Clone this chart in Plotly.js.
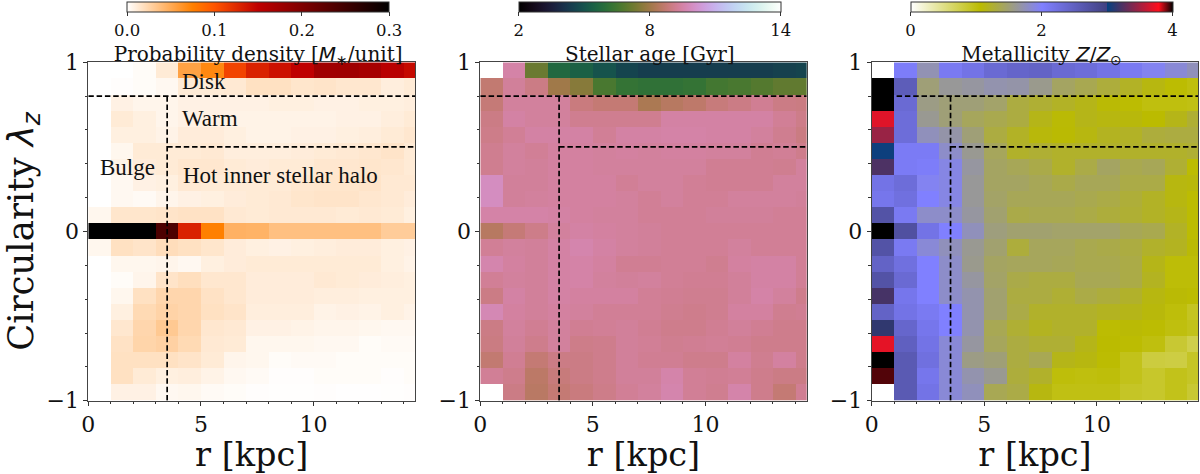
<!DOCTYPE html>
<html><head><meta charset="utf-8">
<script src="https://cdn.plot.ly/plotly-3.0.1.min.js"></script>
<style>html,body{margin:0;padding:0;background:#fff}#c{width:1200px;height:474px}</style>
</head><body><div id="c"></div>
<script>
const radius=[0.5,1.5,2.5,3.5,4.5,5.5,6.5,7.5,8.5,9.5,10.5,11.5,12.5,13.5,14.5];
const circularity=[0.952,0.857,0.762,0.667,0.571,0.476,0.381,0.286,0.190,0.095,0,-0.095,-0.190,-0.286,-0.381,-0.476,-0.571,-0.667,-0.762,-0.857,-0.952];
const density=[
[0,0,.002,.012,.055,.07,.11,.13,.14,.15,.174,.175,.17,.155,.145],
[0,.001,.002,.004,.012,.012,.013,.018,.018,.015,.016,.014,.014,.01,.012],
[0,.008,.006,.006,.008,.008,.008,.008,.009,.009,.008,.008,.009,.009,.01],
[0,.012,.009,.006,.008,.008,.007,.007,.007,.007,.007,.008,.008,.01,.012],
[0,.009,.009,.007,.011,.011,.009,.007,.007,.008,.008,.009,.01,.012,.014],
[0,.005,.012,.012,.012,.013,.01,.01,.01,.011,.012,.013,.014,.016,.012],
[0,.007,.011,.012,.014,.014,.012,.011,.012,.012,.014,.014,.015,.014,.012],
[0,.004,.008,.009,.013,.012,.012,.012,.012,.014,.015,.015,.016,.013,.013],
[0,.004,.003,.006,.008,.009,.011,.012,.013,.015,.016,.016,.014,.013,.011],
[.005,.015,.015,.016,.017,.017,.013,.012,.013,.013,.013,.012,.013,.012,.009],
[.4,.4,.4,.24,.13,.075,.046,.045,.037,.037,.037,.037,.037,.03,.03],
[.005,.018,.016,.02,.018,.015,.011,.009,.008,.009,.01,.011,.011,.009,.008],
[0,.005,.005,.006,.004,.009,.011,.012,.012,.012,.012,.012,.012,.009,.007],
[0,.002,.006,.016,.019,.014,.014,.011,.011,.011,.013,.012,.011,.01,.009],
[0,.005,.018,.024,.024,.017,.014,.011,.011,.011,.01,.01,.009,.009,.009],
[0,.009,.022,.026,.024,.018,.016,.01,.01,.01,.007,.008,.007,.009,.007],
[0,.014,.024,.032,.024,.014,.013,.008,.008,.007,.006,.006,.005,.004,.004],
[0,.017,.025,.027,.022,.013,.012,.005,.005,.005,.004,.004,.002,.003,.003],
[0,.018,.018,.018,.016,.012,.006,.005,.002,.003,.003,.002,.002,.002,.002],
[0,.018,.012,.009,.01,.007,.004,.003,.001,.001,.002,.002,.002,.001,.002],
[0,.008,.008,.004,.005,.003,.002,.001,.0005,.0005,.001,.0003,.0003,.0005,.001]];
const age=[
[null,9.5,7.15,5.7,5.4,5.0,4.6,4.4,4.4,4.4,4.4,4.4,4.4,4.5,4.6],
[8.7,9.3,9.0,8.0,7.6,6.6,6.2,6.1,6.1,6.2,6.5,6.6,6.8,7.0,7.0],
[8.8,9.35,9.35,9.35,8.9,8.75,8.75,8.2,8.45,8.6,8.85,9.0,9.2,9.0,8.95],
[9.0,9.45,9.35,9.35,9.15,9.15,9.15,9.15,9.45,9.45,9.45,9.45,9.45,9.25,9.05],
[9.05,9.25,9.45,9.45,9.45,9.25,9.45,9.45,9.5,9.5,9.45,9.45,9.35,9.15,8.95],
[9.15,9.35,9.25,9.4,9.4,9.35,9.4,9.35,9.4,9.4,9.35,9.35,9.2,9.25,9.1],
[9.15,9.35,9.3,9.4,9.4,9.35,9.35,9.35,9.35,9.35,9.2,9.2,9.2,9.15,9.35],
[9.9,9.3,9.3,9.4,9.4,9.4,9.25,9.35,9.35,9.25,9.2,9.2,9.2,9.35,9.35],
[9.9,9.3,9.35,9.4,9.4,9.4,9.35,9.25,9.35,9.25,9.25,9.35,9.35,9.35,9.3],
[9.5,9.5,9.5,9.45,9.4,9.35,9.35,9.25,9.25,9.25,9.3,9.3,9.3,9.25,9.25],
[8.45,8.8,9.05,9.35,9.45,9.4,9.35,9.3,9.25,9.25,9.25,9.25,9.25,9.25,9.25],
[9.25,9.35,9.3,9.45,9.6,9.45,9.35,9.3,9.25,9.25,9.25,9.35,9.25,9.25,9.25],
[9.6,9.4,9.3,9.45,9.5,9.4,9.2,9.2,9.25,9.25,9.15,9.4,9.45,9.45,9.25],
[9.25,9.35,9.3,9.45,9.5,9.35,9.3,9.35,9.25,9.2,9.2,9.3,9.45,9.45,9.25],
[9.0,9.45,9.3,9.45,9.4,9.4,9.4,9.25,9.2,9.15,9.15,9.3,9.5,9.35,9.1],
[9.7,9.4,9.3,9.4,9.35,9.25,9.25,9.25,9.15,9.1,9.15,9.4,9.4,9.15,9.2],
[9.0,9.35,9.2,9.35,9.2,9.25,9.3,9.2,9.1,9.1,9.2,9.3,9.2,9.1,9.1],
[8.95,9.3,9.1,9.35,9.05,9.1,9.3,9.25,9.15,9.2,9.25,9.2,9.1,9.1,9.1],
[8.7,9.2,8.75,9.0,9.0,9.1,9.3,9.2,9.2,9.1,9.1,9.4,9.15,9.4,9.1],
[9.25,9.1,8.55,8.85,9.0,9.1,9.3,9.3,9.55,9.25,9.2,9.25,9.1,9.0,9.0],
[null,9.0,8.5,8.75,8.9,9.05,9.25,9.35,9.6,9.25,9.15,9.55,9.1,8.75,9.2]];
const metallicity=[
[null,2.05,1.72,2.1,2.2,2.35,2.42,2.45,2.35,2.3,2.2,2.1,1.95,1.85,1.75],
[4,2.55,1.5,1.62,1.65,1.7,1.68,1.58,1.42,1.36,1.28,1.2,1.12,1.05,1.0],
[4,2.35,1.55,1.5,1.5,1.45,1.3,1.25,1.2,1.15,1.08,1.05,1.0,1.0,.98],
[3.68,2.3,1.6,1.5,1.4,1.35,1.3,1.15,1.08,1.15,1.12,1.1,1.06,1.15,1.25],
[3.46,2.3,1.75,1.68,1.5,1.3,1.2,1.1,1.07,1.12,1.18,1.2,1.28,1.3,1.3],
[3.02,2.08,2.08,1.8,1.6,1.4,1.22,1.25,1.22,1.22,1.22,1.22,1.22,1.22,1.25],
[3.22,2.08,2.05,1.9,1.65,1.42,1.38,1.33,1.22,1.32,1.42,1.35,1.38,1.25,1.05],
[2.2,2.3,1.95,1.9,1.62,1.42,1.42,1.38,1.33,1.38,1.38,1.32,1.32,1.12,1.1],
[2.15,2.25,2.0,1.9,1.62,1.44,1.38,1.38,1.38,1.35,1.32,1.27,1.2,1.12,1.05],
[2.7,2.1,1.8,1.8,1.65,1.47,1.33,1.35,1.35,1.32,1.28,1.25,1.2,1.15,1.05],
[4,2.75,2.2,2.0,1.75,1.52,1.47,1.47,1.45,1.45,1.45,1.38,1.35,1.2,1.05],
[2.7,2.1,1.85,1.75,1.6,1.47,1.28,1.4,1.4,1.35,1.33,1.3,1.22,1.18,1.08],
[2.45,2.25,2.0,1.8,1.58,1.42,1.4,1.4,1.38,1.35,1.35,1.32,1.15,1.03,1.03],
[2.7,2.35,2.0,1.8,1.65,1.44,1.33,1.3,1.3,1.37,1.37,1.32,1.18,1.03,1.03],
[3.2,2.15,2.0,1.8,1.7,1.47,1.3,1.3,1.25,1.32,1.28,1.22,1.12,1.08,1.05],
[2.45,2.2,2.1,2.0,1.7,1.47,1.32,1.22,1.22,1.22,1.18,1.15,1.1,1.02,.92],
[3.13,2.4,2.15,2.0,1.7,1.37,1.25,1.18,1.22,1.22,1.05,1.08,1.05,1.0,.95],
[3.7,2.5,2.2,1.85,1.65,1.4,1.3,1.25,1.25,1.15,1.06,1.05,1.0,.85,.75],
[4,2.6,2.25,1.85,1.55,1.5,1.3,1.37,1.15,1.12,1.05,.95,.8,.78,.9],
[3.93,2.6,2.15,1.85,1.7,1.6,1.28,1.22,1.02,1.0,1.02,.95,.88,.95,.9],
[null,2.6,2.2,1.85,1.75,1.37,1.32,1.12,.98,.98,.98,.9,.88,.95,.85]];
const densityTicks=[0,.1,.2,.3], densityLabels=["0.0","0.1","0.2","0.3"];
const ageTicks=[2,8,14], metalTicks=[0,2,4];
const xTicks=[0,5,10], yTicks=[-1,0,1], yLabels=["\u22121","0","1"];
const dashR=[0,14.5], dashA=[0.8,0.8];
const vertR=[3.5,3.5], vertL=[0.8,-1];
const hotR=[3.5,14.5], hotL=[0.5,0.5];

const W=1200,H=474,FF="DejaVu Serif, serif";
const heat=[[0,'rgb(255,255,255)'],[.25,'rgb(255,128,0)'],[1/3,'rgb(255,85,0)'],[.5,'rgb(191,0,0)'],[1,'rgb(0,0,0)']];
function cubehelix(){const s=[];for(let i=0;i<=40;i++){const x=i/40,a=x*(1-x)/2,p=2*Math.PI*(.5/3-1.5*x),c=Math.cos(p),n=Math.sin(p);
 const f=v=>Math.round(255*Math.min(1,Math.max(0,v)));
 s.push([x,`rgb(${f(x+a*(-.14861*c+1.78277*n))},${f(x+a*(-.29227*c-.90649*n))},${f(x+a*1.97294*c)})`]);}return s;}
const stern=[[0,'rgb(255,255,255)'],[.265,'rgb(187,187,0)'],[.5,'rgb(128,128,255)'],[.75,'rgb(64,64,128)'],[.75,'rgb(7,64,128)'],[.9453,'rgb(255,14,28)'],[1,'rgb(0,0,0)']];

const panels=[
 {z:density,cs:heat,zmin:0,zmax:.3,tv:densityTicks,tt:densityLabels,t:'Probability density [<span style="font-family:DejaVu Sans"><i>M</i><sub>\u2217</sub></span>/unit]',l:88.3,r:415,cl:127.3,cr:389},
 {z:age,cs:cubehelix(),zmin:2,zmax:14,tv:ageTicks,tt:ageTicks.map(String),t:'Stellar age [Gyr]',l:480.3,r:806.7,cl:519,cr:780.7},
 {z:metallicity,cs:stern,zmin:0,zmax:4,tv:metalTicks,tt:metalTicks.map(String),t:'Metallicity <span style="font-family:DejaVu Sans"><i>Z</i>/<i>Z</i><sub>\u2299</sub></span>',l:871.7,r:1198.3,cl:910.7,cr:1172.3}];
const plotTop=62.3,plotBot=400.7;
const data=[],layout={width:W,height:H,margin:{l:0,r:0,t:0,b:0},paper_bgcolor:'#fff',plot_bgcolor:'#fff',showlegend:false,font:{family:FF,color:'#111'},annotations:[]};
panels.forEach((p,i)=>{
 const n=i?String(i+1):'';
 data.push({type:'heatmap',x:radius,y:circularity,z:p.z,xaxis:'x'+n,yaxis:'y'+n,colorscale:p.cs,zmin:p.zmin,zmax:p.zmax,hoverinfo:'skip',
  colorbar:{orientation:'h',xref:'paper',yref:'paper',x:(p.cl+p.cr)/2/W,xanchor:'center',y:1-2/H,yanchor:'top',lenmode:'pixels',len:p.cr-p.cl,thicknessmode:'pixels',thickness:10,xpad:0,ypad:0,
   outlinecolor:'#333',outlinewidth:1,ticks:'outside',ticklen:4,tickcolor:'#333',tickvals:p.tv,ticktext:p.tt,tickfont:{family:FF,size:16.5,color:'#111'},
   title:{text:p.t,side:'bottom',font:{family:FF,size:20,color:'#111'}}}});
 [[dashR,dashA],[vertR,vertL],[hotR,hotL]].forEach(([xs,ys])=>data.push({type:'scatter',mode:'lines',x:xs,y:ys,xaxis:'x'+n,yaxis:'y'+n,hoverinfo:'skip',line:{color:'#000',width:1.7,dash:'5.5px,2.8px'}}));
 layout['xaxis'+n]={domain:[p.l/W,p.r/W],range:[0,14.5],anchor:'y'+n,tickmode:'array',tickvals:xTicks,ticks:'outside',ticklen:4,tickwidth:1,tickcolor:'#333',tickfont:{size:22,family:FF},showgrid:false,zeroline:false,showline:true,mirror:true,linecolor:'#444',linewidth:1,
  minor:{dtick:1,ticks:'outside',ticklen:2.5,tickcolor:'#333',showgrid:false},title:{text:'r [kpc]',font:{size:33.5,family:FF},standoff:3}};
 layout['yaxis'+n]={domain:[1-plotBot/H,1-plotTop/H],range:[-1,1],anchor:'x'+n,tickmode:'array',tickvals:yTicks,ticktext:yLabels,ticks:'outside',ticklen:4,tickwidth:1,tickcolor:'#333',tickfont:{size:22,family:FF},showgrid:false,zeroline:false,showline:true,mirror:true,linecolor:'#444',linewidth:1,
  minor:{dtick:.2,ticks:'outside',ticklen:2.5,tickcolor:'#333',showgrid:false}};
});
layout.yaxis.title={text:'\u00a0Circularity <span style="font-family:DejaVu Sans"><i>\u03bb<sub>z</sub></i></span>',font:{size:35.5,family:FF},standoff:8};
[['Disk',4.05,.889],['Warm',4.05,.665],['Bulge',.43,.38],['Hot inner stellar halo',4.12,.333]].forEach(([t,x,y])=>layout.annotations.push({text:t,x,y,xref:'x',yref:'y',xanchor:'left',yanchor:'middle',showarrow:false,font:{family:'Liberation Serif, serif',size:23,color:'#111'}}));
Plotly.newPlot('c',data,layout,{displayModeBar:false,staticPlot:true});
</script></body></html>
